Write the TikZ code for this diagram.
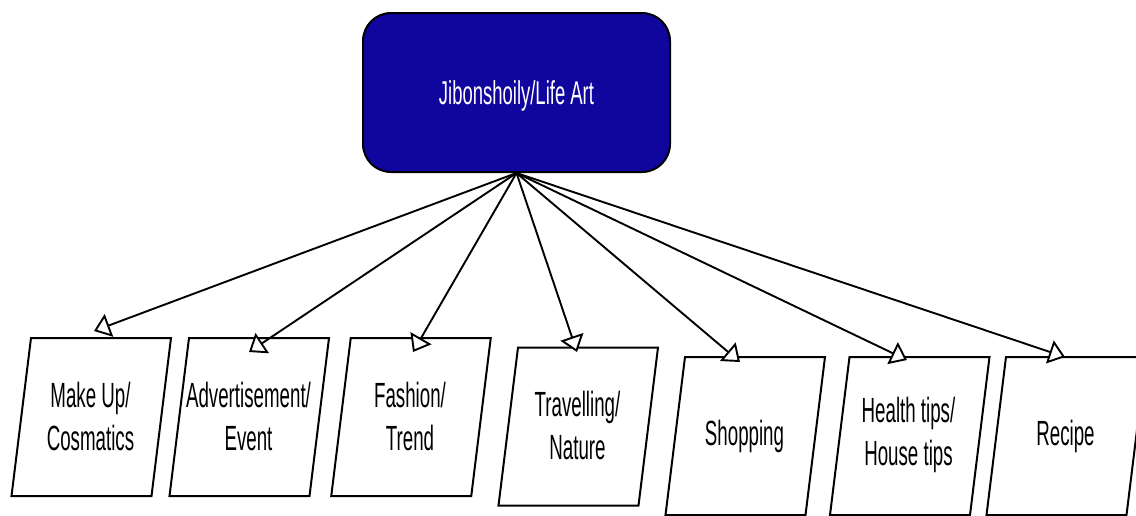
\documentclass[tikz,border=0pt]{standalone}
\usepackage{fontspec}
\newfontfamily\narfont[FakeStretch=0.535]{Liberation Sans}
\newfontfamily\topfont[FakeStretch=0.56]{Liberation Sans}
\usetikzlibrary{arrows.meta}
\definecolor{topblue}{RGB}{16,6,158}
\tikzset{
  paratext/.style={inner sep=0pt, align=center, font=\narfont\fontsize{35}{43}\selectfont},
  parabox/.style={draw, line width=2pt, line join=miter},
  topbox/.style={draw, line width=2pt, fill=topblue, rounded corners=28pt, minimum width=307pt,
    minimum height=159pt},
  toptext/.style={text=white, inner sep=0pt, font=\topfont\fontsize{33}{40}\selectfont},
  conn/.style={line width=1.9pt, -{Triangle[fill=white,line width=1.9pt,length=16pt,width=24pt]}}
}
\newcommand\parabody[1]{\draw[parabox, shift={(#1)}] (-60.25,-79) -- (79.75,-79) -- (60.25,79) -- (-79.75,79) -- cycle;}
\begin{document}
\begin{tikzpicture}[x=1pt,y=-1pt]
\useasboundingbox (0,0) rectangle (1136,515);
\node[topbox] (top) at (516.5,92.5) {};
\node[toptext, anchor=base] (toplbl) at (516.5,104.5) {Jibonshoily/Life Art};
\coordinate (c1) at (91.25,417);
\coordinate (c2) at (249.25,417);
\coordinate (c3) at (411,417);
\coordinate (c4) at (578.25,426.5);
\coordinate (c5) at (745.25,436);
\coordinate (c6) at (909.75,436);
\coordinate (c7) at (1066.25,436);
\foreach \c in {c1,c2,c3,c4,c5,c6,c7} {\parabody{\c}}
\node[paratext] (b1) at (90.5,416) {Make Up/\\Cosmatics};
\node[paratext] (b2) at (248.5,416) {Advertisement/\\Event};
\node[paratext] (b3) at (410,416) {Fashion/\\Trend};
\node[paratext] (b4) at (577.5,425.5) {Travelling/\\Nature};
\node[paratext] (b5) at (744.5,436) {Shopping};
\node[paratext] (b6) at (908.5,435) {Health tips/\\House tips};
\node[paratext] (b7) at (1065.5,436) {Recipe};
\coordinate (t1) at (94,331);
\coordinate (t2) at (249,352);
\coordinate (t3) at (413,352);
\coordinate (t4) at (577,352);
\coordinate (t5) at (740,362);
\coordinate (t6) at (907,360);
\coordinate (t7) at (1065,357);
\foreach \i in {1,...,7} \draw[conn] (top.south) -- (t\i);
\end{tikzpicture}
\end{document}
